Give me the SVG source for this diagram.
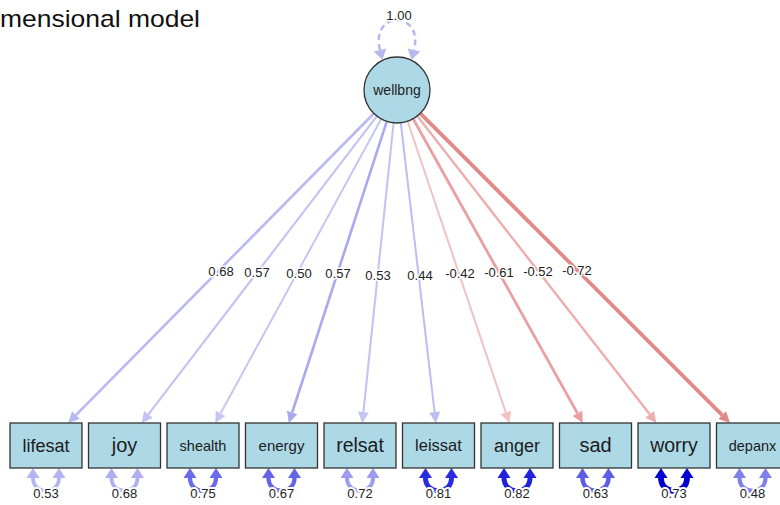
<svg xmlns="http://www.w3.org/2000/svg" width="780" height="505" viewBox="0 0 780 505">
  <style>
    .node rect { fill: #add8e6; stroke: #333; stroke-width: 1.3; }
    .node circle { fill: #add8e6; stroke: #333; stroke-width: 1.3; }
    .name { font-family: "Liberation Sans", Arial, sans-serif; fill: #1c1c1c; text-anchor: middle; }
    .num { font-family: "Liberation Sans", Arial, sans-serif; font-size: 13px; fill: #222; text-anchor: middle;
           paint-order: stroke; stroke: #fff; stroke-width: 3px; stroke-linejoin: round; }
    .rnum { stroke-width: 4px; }
    .edge { fill: none; stroke-linecap: butt; }
    .resid { fill: none; }
  </style>
  <defs>
    <path id="head" d="M0,-5.5 L11,0 L0,5.5 Z"/>
    <path id="rhead" d="M0,-6.5 L10,0 L0,6.5 Z"/>
    <!-- loading arrowheads -->
    <marker id="a1" markerUnits="userSpaceOnUse" orient="auto" overflow="visible"><use href="#head" fill="#b9b9f2"/></marker>
    <marker id="a2" markerUnits="userSpaceOnUse" orient="auto" overflow="visible"><use href="#head" fill="#c4c4f4"/></marker>
    <marker id="a3" markerUnits="userSpaceOnUse" orient="auto" overflow="visible"><use href="#head" fill="#c6c6f4"/></marker>
    <marker id="a4" markerUnits="userSpaceOnUse" orient="auto" overflow="visible"><use href="#head" fill="#a9a9ef"/></marker>
    <marker id="a5" markerUnits="userSpaceOnUse" orient="auto" overflow="visible"><use href="#head" fill="#c4c4f4"/></marker>
    <marker id="a6" markerUnits="userSpaceOnUse" orient="auto" overflow="visible"><use href="#head" fill="#bdbdf3"/></marker>
    <marker id="a7" markerUnits="userSpaceOnUse" orient="auto" overflow="visible"><use href="#head" fill="#f0c2c2"/></marker>
    <marker id="a8" markerUnits="userSpaceOnUse" orient="auto" overflow="visible"><use href="#head" fill="#e8a0a0"/></marker>
    <marker id="a9" markerUnits="userSpaceOnUse" orient="auto" overflow="visible"><use href="#head" fill="#eeaeae"/></marker>
    <marker id="a10" markerUnits="userSpaceOnUse" orient="auto" overflow="visible"><use href="#head" fill="#e08a8a"/></marker>
    <!-- residual variance arrowheads -->
    <marker id="r1" markerUnits="userSpaceOnUse" orient="auto-start-reverse" overflow="visible"><use href="#rhead" fill="#b4b4f4"/></marker>
    <marker id="r2" markerUnits="userSpaceOnUse" orient="auto-start-reverse" overflow="visible"><use href="#rhead" fill="#afaff2"/></marker>
    <marker id="r3" markerUnits="userSpaceOnUse" orient="auto-start-reverse" overflow="visible"><use href="#rhead" fill="#6a6aec"/></marker>
    <marker id="r4" markerUnits="userSpaceOnUse" orient="auto-start-reverse" overflow="visible"><use href="#rhead" fill="#6464e6"/></marker>
    <marker id="r5" markerUnits="userSpaceOnUse" orient="auto-start-reverse" overflow="visible"><use href="#rhead" fill="#9c9cf0"/></marker>
    <marker id="r6" markerUnits="userSpaceOnUse" orient="auto-start-reverse" overflow="visible"><use href="#rhead" fill="#2a2ae0"/></marker>
    <marker id="r7" markerUnits="userSpaceOnUse" orient="auto-start-reverse" overflow="visible"><use href="#rhead" fill="#2222dc"/></marker>
    <marker id="r8" markerUnits="userSpaceOnUse" orient="auto-start-reverse" overflow="visible"><use href="#rhead" fill="#5c5ce8"/></marker>
    <marker id="r9" markerUnits="userSpaceOnUse" orient="auto-start-reverse" overflow="visible"><use href="#rhead" fill="#0000d0"/></marker>
    <marker id="r10" markerUnits="userSpaceOnUse" orient="auto-start-reverse" overflow="visible"><use href="#rhead" fill="#8080ec"/></marker>
    <!-- latent variance arrowhead -->
    <marker id="v0" markerUnits="userSpaceOnUse" orient="auto-start-reverse" overflow="visible"><use href="#rhead" fill="#b8b8f0"/></marker>
  </defs>

  <rect width="780" height="505" fill="#fff"/>

  <text x="0" y="27" font-family="Liberation Sans, Arial, sans-serif" font-size="24" fill="#111" textLength="200" lengthAdjust="spacingAndGlyphs">mensional model</text>

  <!-- connectors -->
  <g id="connectors">
    <!-- latent variance -->
    <path d="M380,50 C370,10 424,10 414,50" stroke="#b8b8f0" stroke-width="2.5" stroke-dasharray="6 4" fill="none" marker-start="url(#v0)" marker-end="url(#v0)"/>

    <!-- factor loadings -->
    <line class="edge" x1="373.8" y1="113.5" x2="75.9" y2="415.2" stroke="#b9b9f2" stroke-width="2.6" marker-end="url(#a1)"/>
    <line class="edge" x1="376.9" y1="116.2" x2="148.4" y2="414.3" stroke="#c4c4f4" stroke-width="2.2" marker-end="url(#a2)"/>
    <line class="edge" x1="381.2" y1="119.0" x2="220.6" y2="413.3" stroke="#c6c6f4" stroke-width="2" marker-end="url(#a3)"/>
    <line class="edge" x1="386.8" y1="121.4" x2="292.2" y2="412.5" stroke="#a9a9ef" stroke-width="2.6" marker-end="url(#a4)"/>
    <line class="edge" x1="393.6" y1="122.8" x2="363.4" y2="412.1" stroke="#c4c4f4" stroke-width="2.1" marker-end="url(#a5)"/>
    <line class="edge" x1="400.8" y1="122.8" x2="434.6" y2="412.1" stroke="#bdbdf3" stroke-width="2" marker-end="url(#a6)"/>
    <line class="edge" x1="407.6" y1="121.3" x2="505.9" y2="412.6" stroke="#f0c2c2" stroke-width="2" marker-end="url(#a7)"/>
    <line class="edge" x1="413.1" y1="118.8" x2="577.5" y2="413.4" stroke="#e8a0a0" stroke-width="2.8" marker-end="url(#a8)"/>
    <line class="edge" x1="417.3" y1="116.0" x2="649.7" y2="414.3" stroke="#eeaeae" stroke-width="2.4" marker-end="url(#a9)"/>
    <line class="edge" x1="420.3" y1="113.3" x2="722.2" y2="415.2" stroke="#e08a8a" stroke-width="3.8" marker-end="url(#a10)"/>

    <!-- residual variances -->
    <path class="resid" d="M33,478 C33,495 59,495 59,478" stroke="#b4b4f4" stroke-width="3.8" marker-start="url(#r1)" marker-end="url(#r1)"/>
    <path class="resid" d="M111.5,478 C111.5,495 137.5,495 137.5,478" stroke="#afaff2" stroke-width="3.8" marker-start="url(#r2)" marker-end="url(#r2)"/>
    <path class="resid" d="M190,478 C190,495 216,495 216,478" stroke="#6a6aec" stroke-width="4.3" marker-start="url(#r3)" marker-end="url(#r3)"/>
    <path class="resid" d="M268.5,478 C268.5,495 294.5,495 294.5,478" stroke="#6464e6" stroke-width="4.3" marker-start="url(#r4)" marker-end="url(#r4)"/>
    <path class="resid" d="M347,478 C347,495 373,495 373,478" stroke="#9c9cf0" stroke-width="4" marker-start="url(#r5)" marker-end="url(#r5)"/>
    <path class="resid" d="M425.5,478 C425.5,495 451.5,495 451.5,478" stroke="#2a2ae0" stroke-width="5" marker-start="url(#r6)" marker-end="url(#r6)"/>
    <path class="resid" d="M504,478 C504,495 530,495 530,478" stroke="#2222dc" stroke-width="5" marker-start="url(#r7)" marker-end="url(#r7)"/>
    <path class="resid" d="M582.5,478 C582.5,495 608.5,495 608.5,478" stroke="#5c5ce8" stroke-width="4.5" marker-start="url(#r8)" marker-end="url(#r8)"/>
    <path class="resid" d="M661,478 C661,495 687,495 687,478" stroke="#0000d0" stroke-width="5.8" marker-start="url(#r9)" marker-end="url(#r9)"/>
    <path class="resid" d="M739.5,478 C739.5,495 765.5,495 765.5,478" stroke="#8080ec" stroke-width="4.2" marker-start="url(#r10)" marker-end="url(#r10)"/>

    <!-- labels -->
    <text class="num" x="399" y="20">1.00</text>
    <text class="num" x="221" y="276">0.68</text>
    <text class="num" x="257" y="277">0.57</text>
    <text class="num" x="299" y="278">0.50</text>
    <text class="num" x="338" y="278">0.57</text>
    <text class="num" x="378" y="280">0.53</text>
    <text class="num" x="420" y="280">0.44</text>
    <text class="num" x="460" y="278">-0.42</text>
    <text class="num" x="499" y="277">-0.61</text>
    <text class="num" x="538" y="276">-0.52</text>
    <text class="num" x="577" y="275">-0.72</text>

    <text class="num rnum" x="46" y="498">0.53</text>
    <text class="num rnum" x="124.5" y="498">0.68</text>
    <text class="num rnum" x="203" y="498">0.75</text>
    <text class="num rnum" x="281.5" y="498">0.67</text>
    <text class="num rnum" x="360" y="498">0.72</text>
    <text class="num rnum" x="438.5" y="498">0.81</text>
    <text class="num rnum" x="517" y="498">0.82</text>
    <text class="num rnum" x="595.5" y="498">0.63</text>
    <text class="num rnum" x="674" y="498">0.73</text>
    <text class="num rnum" x="752.5" y="498">0.48</text>
  </g>

  <!-- latent factor -->
  <g id="wellbng" class="node">
    <circle cx="397" cy="90" r="33"/>
    <text class="name" x="397" y="95" font-size="14">wellbng</text>
  </g>

  <!-- indicators -->
  <g id="lifesat" class="node"><rect x="10" y="423" width="72" height="45"/><text class="name" x="46" y="452" font-size="18">lifesat</text></g>
  <g id="joy" class="node"><rect x="88.5" y="423" width="72" height="45"/><text class="name" x="124.5" y="452" font-size="20">joy</text></g>
  <g id="shealth" class="node"><rect x="167" y="423" width="72" height="45"/><text class="name" x="203" y="451" font-size="14.5">shealth</text></g>
  <g id="energy" class="node"><rect x="245.5" y="423" width="72" height="45"/><text class="name" x="281.5" y="451" font-size="15">energy</text></g>
  <g id="relsat" class="node"><rect x="324" y="423" width="72" height="45"/><text class="name" x="360" y="452" font-size="19.5">relsat</text></g>
  <g id="leissat" class="node"><rect x="402.5" y="423" width="72" height="45"/><text class="name" x="438.5" y="451" font-size="16.5">leissat</text></g>
  <g id="anger" class="node"><rect x="481" y="423" width="72" height="45"/><text class="name" x="517" y="452" font-size="18">anger</text></g>
  <g id="sad" class="node"><rect x="559.5" y="423" width="72" height="45"/><text class="name" x="595.5" y="452" font-size="20">sad</text></g>
  <g id="worry" class="node"><rect x="638" y="423" width="72" height="45"/><text class="name" x="674" y="452" font-size="19.5">worry</text></g>
  <g id="depanx" class="node"><rect x="716.5" y="423" width="72" height="45"/><text class="name" x="752.5" y="451" font-size="14.5">depanx</text></g>
</svg>
